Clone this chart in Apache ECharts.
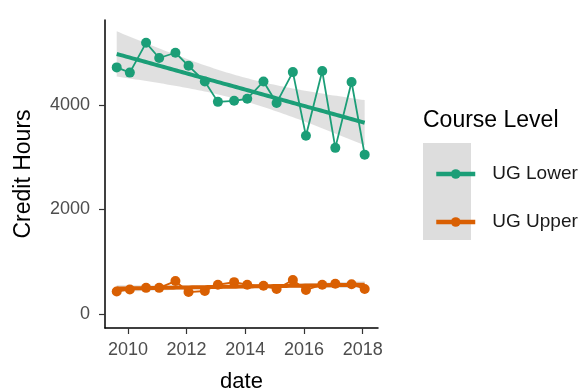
<!DOCTYPE html>
<html>
<head>
<meta charset="utf-8">
<script src="https://cdn.jsdelivr.net/npm/echarts@6/dist/echarts.min.js"></script>
<style>
  html, body { margin: 0; padding: 0; background: #fff; }
  #chart { width: 580px; height: 391px; }
</style>
</head>
<body>
<div id="chart"></div>
<script>
// Term start dates (fall / spring semesters)
const termDates = [
  '2009-08-15', '2010-01-25', '2010-08-15', '2011-01-25', '2011-08-15', '2012-01-25',
  '2012-08-15', '2013-01-25', '2013-08-15', '2014-01-25', '2014-08-15', '2015-01-25',
  '2015-08-15', '2016-01-25', '2016-08-15', '2017-01-25', '2017-08-15', '2018-01-25'
];
// Credit hours per term
const ugLower = [4720, 4620, 5190, 4900, 5000, 4750, 4450, 4060, 4080, 4120, 4450, 4040, 4630, 3410, 4650, 3180, 4440, 3050];
const ugUpper = [430, 470, 500, 500, 630, 420, 440, 560, 610, 560, 540, 480, 650, 460, 560, 580, 570, 480];
const yearTicks = [2010, 2012, 2014, 2016, 2018];
const hourTicks = [0, 2000, 4000];

const GREEN = '#1B9E77';
const ORANGE = '#D95F02';
const FONT = '"Liberation Sans", Arial, Helvetica, sans-serif';

// date string -> decimal year
function decYear(s) {
  const d = new Date(s + 'T00:00:00Z');
  const y = d.getUTCFullYear();
  const start = Date.UTC(y, 0, 1), end = Date.UTC(y + 1, 0, 1);
  return y + (d.getTime() - start) / (end - start);
}
const xs = termDates.map(decYear);

// Ordinary least squares fit with 95% confidence band
function linearFit(x, y, steps) {
  const n = x.length;
  const xbar = x.reduce((a, b) => a + b, 0) / n;
  const ybar = y.reduce((a, b) => a + b, 0) / n;
  let sxx = 0, sxy = 0;
  for (let i = 0; i < n; i++) { sxx += (x[i] - xbar) ** 2; sxy += (x[i] - xbar) * (y[i] - ybar); }
  const b = sxy / sxx, a = ybar - b * xbar;
  let sse = 0;
  for (let i = 0; i < n; i++) sse += (y[i] - a - b * x[i]) ** 2;
  const s = Math.sqrt(sse / (n - 2));
  const t = 2.1199; // t(0.975, df = 16)
  const x0 = Math.min(...x), x1 = Math.max(...x);
  const gx = [], lo = [], hi = [], fit = [];
  for (let k = 0; k < steps; k++) {
    const xv = x0 + (x1 - x0) * k / (steps - 1);
    const yv = a + b * xv;
    const se = s * Math.sqrt(1 / n + (xv - xbar) ** 2 / sxx);
    gx.push(xv); fit.push([xv, yv]); lo.push(yv - t * se); hi.push(yv + t * se);
  }
  return { gx, lo, hi, fit };
}

const fitLower = linearFit(xs, ugLower, 80);
const fitUpper = linearFit(xs, ugUpper, 80);

function bandSeries(name, f) {
  return {
    name: name,
    type: 'custom',
    silent: true,
    z: 1,
    data: [[f.gx[0], f.lo[0]]],
    renderItem: function (params, api) {
      const pts = [];
      for (let i = 0; i < f.gx.length; i++) pts.push(api.coord([f.gx[i], f.hi[i]]));
      for (let i = f.gx.length - 1; i >= 0; i--) pts.push(api.coord([f.gx[i], f.lo[i]]));
      return { type: 'polygon', shape: { points: pts }, style: { fill: 'rgba(160,160,160,0.32)' } };
    }
  };
}

function dataSeries(name, color, values) {
  return {
    name: name,
    type: 'line',
    z: 3,
    symbol: 'circle',
    symbolSize: 10,
    itemStyle: { color: color },
    lineStyle: { color: color, width: 1.8 },
    data: xs.map((x, i) => [x, values[i]])
  };
}

function fitSeries(name, color, f) {
  return {
    name: name + ' fit',
    type: 'line',
    z: 4,
    showSymbol: false,
    silent: true,
    lineStyle: { color: color, width: 4 },
    data: f.fit
  };
}

const plain = v => String(v);

const chart = echarts.init(document.getElementById('chart'), null, { renderer: 'canvas' });
chart.setOption({
  animation: false,
  backgroundColor: '#ffffff',
  grid: { left: 105, top: 20, right: 202, bottom: 63, outerBoundsMode: 'none' },
  xAxis: {
    type: 'value',
    min: 2009.22,
    max: 2018.52,
    name: 'date',
    nameLocation: 'middle',
    nameGap: 43,
    nameTextStyle: { fontFamily: FONT, fontSize: 22, color: '#000' },
    axisLine: { show: true, onZero: false, lineStyle: { color: '#000', width: 1.5 } },
    axisTick: { show: true, length: 6, customValues: yearTicks, lineStyle: { color: '#333', width: 1.2 } },
    axisLabel: { customValues: yearTicks, formatter: plain, margin: 13, fontFamily: FONT, fontSize: 18, color: '#4D4D4D' },
    splitLine: { show: false }
  },
  yAxis: {
    type: 'value',
    min: -268,
    max: 5627,
    name: 'Credit Hours',
    nameLocation: 'middle',
    nameRotate: 90,
    nameGap: 70,
    nameTextStyle: { fontFamily: FONT, fontSize: 23, color: '#000' },
    axisLine: { show: true, onZero: false, lineStyle: { color: '#000', width: 1.5 } },
    axisTick: { show: true, length: 6, customValues: hourTicks, lineStyle: { color: '#333', width: 1.2 } },
    axisLabel: { customValues: hourTicks, formatter: plain, margin: 15, fontFamily: FONT, fontSize: 18, color: '#4D4D4D' },
    splitLine: { show: false }
  },
  legend: {
    data: ['UG Lower', 'UG Upper'],
    orient: 'vertical',
    left: 429,
    top: 159,
    itemWidth: 39,
    itemHeight: 12,
    itemGap: 28,
    lineStyle: { width: 4.5 },
    textStyle: { fontFamily: FONT, fontSize: 19, color: '#1a1a1a', lineHeight: 20, padding: [0, 0, 0, 12] },
    selectedMode: false
  },
  graphic: [
    { type: 'rect', z: -1, shape: { x: 423, y: 143, width: 48, height: 97 }, style: { fill: '#dddddd' } },
    { type: 'text', x: 423, y: 121, style: { text: 'Course Level', font: '23px ' + FONT, fill: '#000', textVerticalAlign: 'middle' } }
  ],
  series: [
    bandSeries('UG Lower band', fitLower),
    bandSeries('UG Upper band', fitUpper),
    dataSeries('UG Lower', GREEN, ugLower),
    dataSeries('UG Upper', ORANGE, ugUpper),
    fitSeries('UG Lower', GREEN, fitLower),
    fitSeries('UG Upper', ORANGE, fitUpper)
  ]
});
</script>
</body>
</html>
